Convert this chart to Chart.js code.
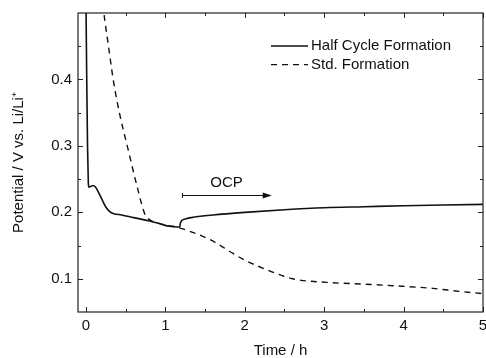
<!DOCTYPE html>
<html>
<head>
<meta charset="utf-8">
<script src="https://cdn.jsdelivr.net/npm/chart.js@4/dist/chart.umd.min.js"></script>
<style>
  html, body { margin: 0; padding: 0; background: #fff; }
  #wrap { width: 486px; height: 358px; position: relative; }
</style>
</head>
<body>
<div id="wrap"><canvas id="c" width="486" height="358"></canvas></div>
<script>
// ---- Data ----
const halfCycleTime = [0.0, 0.01, 0.02, 0.03, 0.035, 0.06, 0.08, 0.10, 0.12, 0.15, 0.20, 0.25, 0.30, 0.35, 0.45, 0.60, 0.80, 0.95, 1.05, 1.15, 1.18, 1.19, 1.21, 1.25, 1.35, 1.60, 2.00, 2.50, 3.00, 3.50, 4.00, 4.50, 5.00];
const halfCycleV    = [0.52, 0.40, 0.30, 0.245, 0.238, 0.239, 0.240, 0.240, 0.238, 0.232, 0.220, 0.208, 0.201, 0.198, 0.196, 0.192, 0.187, 0.182, 0.179, 0.178, 0.178, 0.184, 0.188, 0.190, 0.1925, 0.196, 0.200, 0.204, 0.207, 0.2085, 0.210, 0.211, 0.212];

const stdTime = [0.20, 0.226, 0.284, 0.343, 0.43, 0.52, 0.64, 0.74, 0.80, 0.90, 1.00, 1.10, 1.22, 1.56, 1.97, 2.31, 2.60, 3.03, 3.50, 3.86, 4.37, 4.70, 5.00];
const stdV    = [0.53, 0.50, 0.45, 0.40, 0.345, 0.30, 0.241, 0.198, 0.189, 0.184, 0.181, 0.179, 0.175, 0.159, 0.130, 0.112, 0.100, 0.0946, 0.092, 0.0896, 0.0855, 0.081, 0.0777];

const seriesLabels = ['Half Cycle Formation', 'Std. Formation'];

const xMajorTicks = [0, 1, 2, 3, 4, 5];
const xMinorTicks = [0.5, 1.5, 2.5, 3.5, 4.5];
const yMajorTicks = [0.1, 0.2, 0.3, 0.4];
const yMinorTicks = [0.15, 0.25, 0.35, 0.45];

const ocpLabel = 'OCP';
const ocpStart = 1.215, ocpEnd = 2.34, ocpLevel = 0.226, ocpTextX = 1.77, ocpTextY = 0.245;

const xTitle = 'Time / h';
const yTitle = 'Potential / V vs. Li/Li\u207A';

// ---- Chart ----
const FONT = 'Arial, "Liberation Sans", Helvetica, sans-serif';
const INK = '#111';

const framePlugin = {
  id: 'frameTicks',
  afterDatasetsDraw(chart) {
    const {ctx, chartArea: a, scales: {x, y}} = chart;
    ctx.save();
    ctx.strokeStyle = '#222';
    ctx.lineWidth = 1;
    // inward ticks
    const tick = (len, vals, axis) => {
      vals.forEach(v => {
        if (axis === 'x') {
          const px = Math.round(x.getPixelForValue(v)) + 0.5;
          ctx.beginPath();
          ctx.moveTo(px, a.bottom); ctx.lineTo(px, a.bottom - len);
          ctx.moveTo(px, a.top); ctx.lineTo(px, a.top + len);
          ctx.stroke();
        } else {
          const py = Math.round(y.getPixelForValue(v)) + 0.5;
          ctx.beginPath();
          ctx.moveTo(a.left, py); ctx.lineTo(a.left + len, py);
          ctx.moveTo(a.right, py); ctx.lineTo(a.right - len, py);
          ctx.stroke();
        }
      });
    };
    tick(5, xMajorTicks, 'x');
    tick(3, xMinorTicks, 'x');
    tick(5, yMajorTicks, 'y');
    tick(3, yMinorTicks, 'y');
    // frame
    ctx.lineWidth = 1.2;
    ctx.strokeRect(a.left, a.top, a.right - a.left, a.bottom - a.top);

    // OCP arrow
    const x0 = x.getPixelForValue(ocpStart), x1 = x.getPixelForValue(ocpEnd);
    const yy = Math.round(y.getPixelForValue(ocpLevel)) + 0.5;
    ctx.strokeStyle = INK; ctx.fillStyle = INK; ctx.lineWidth = 1;
    ctx.beginPath();
    ctx.moveTo(x0, yy); ctx.lineTo(x1 - 7, yy);
    ctx.moveTo(x0, yy - 2.5); ctx.lineTo(x0, yy + 2.5);
    ctx.stroke();
    ctx.beginPath();
    ctx.moveTo(x1, yy); ctx.lineTo(x1 - 9, yy - 3); ctx.lineTo(x1 - 9, yy + 3); ctx.closePath();
    ctx.fill();
    ctx.font = '15px ' + FONT;
    ctx.textAlign = 'center'; ctx.textBaseline = 'middle';
    ctx.fillText(ocpLabel, x.getPixelForValue(ocpTextX), y.getPixelForValue(ocpTextY));

    // legend
    ctx.textAlign = 'left';
    chart.data.datasets.forEach((ds, i) => {
      const ly = 46 + i * 18.6;
      ctx.save();
      ctx.lineWidth = ds.borderWidth;
      ctx.setLineDash(ds.borderDash || []);
      ctx.beginPath();
      ctx.moveTo(271, ly); ctx.lineTo(308, ly);
      ctx.stroke();
      ctx.restore();
      ctx.fillText(ds.label, 311, ly);
    });
    ctx.restore();
  }
};

new Chart(document.getElementById('c'), {
  type: 'line',
  data: {
    datasets: [
      {
        label: seriesLabels[0],
        data: halfCycleTime.map((t, i) => ({x: t, y: halfCycleV[i]})),
        borderColor: INK, borderWidth: 1.6, pointRadius: 0,
        cubicInterpolationMode: 'monotone', fill: false
      },
      {
        label: seriesLabels[1],
        data: stdTime.map((t, i) => ({x: t, y: stdV[i]})),
        borderColor: INK, borderWidth: 1.4, borderDash: [6, 5], pointRadius: 0,
        cubicInterpolationMode: 'monotone', fill: false
      }
    ]
  },
  options: {
    responsive: false,
    animation: false,
    events: [],
    layout: { padding: { left: 0, right: 3, top: 13, bottom: 0 } },
    plugins: { legend: { display: false }, tooltip: { enabled: false } },
    scales: {
      x: {
        type: 'linear', min: -0.1, max: 5,
        afterBuildTicks: s => { s.ticks = xMajorTicks.map(v => ({value: v})); },
        afterFit: s => { s.height = 46; s.paddingLeft = 0; s.paddingRight = 0; },
        grid: { drawOnChartArea: false, drawTicks: false },
        border: { display: false },
        ticks: { color: INK, padding: 5, maxRotation: 0, font: { family: FONT, size: 15 },
                 callback: v => String(v) },
        title: { display: true, text: xTitle, color: INK, padding: 0,
                 font: { family: FONT, size: 15, lineHeight: 1 } }
      },
      y: {
        type: 'linear', min: 0.05, max: 0.5,
        afterBuildTicks: s => { s.ticks = yMajorTicks.map(v => ({value: v})); },
        afterFit: s => { s.width = 78; s.paddingTop = 0; s.paddingBottom = 0; },
        grid: { drawOnChartArea: false, drawTicks: false },
        border: { display: false },
        ticks: { color: INK, padding: 6, font: { family: FONT, size: 15 },
                 callback: v => v.toFixed(1) },
        title: { display: true, text: yTitle, color: INK, padding: { top: 11, bottom: 0 },
                 font: { family: FONT, size: 15, lineHeight: 1 } }
      }
    }
  },
  plugins: [framePlugin]
});
</script>
</body>
</html>
